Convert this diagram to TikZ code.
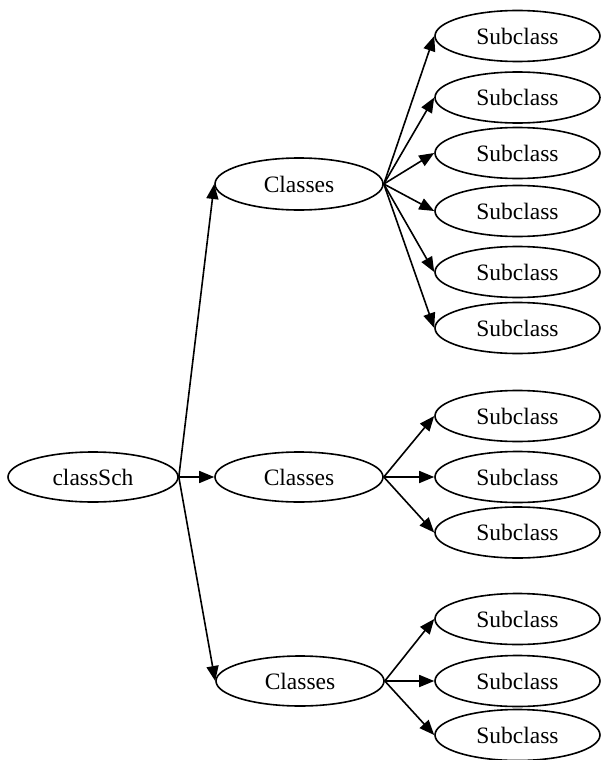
\documentclass[tikz,border=0pt]{standalone}
\usepackage{fontspec}
\setmainfont{Liberation Serif}
\usetikzlibrary{shapes.geometric, arrows.meta}

\begin{document}
\begin{tikzpicture}[x=1pt, y=-1pt,
    every node/.append style={font=\fontsize{23.5}{28}\selectfont},
    oval/.style={ellipse, draw, line width=1.6pt, minimum width=165pt, minimum height=51pt, inner sep=0pt},
    edge/.style={-{Triangle[length=15pt,width=12pt]}, line width=1.6pt}]
  \useasboundingbox (0,0) rectangle (602,760);
  % root and the three class nodes
  \node[oval, minimum width=170pt, minimum height=50pt] (root) at (93,477) {classSch};
  \node[oval, minimum width=168pt, minimum height=52pt] (cls1) at (299,184) {Classes};
  \node[oval, minimum width=168pt, minimum height=50pt] (cls2) at (299,477) {Classes};
  \node[oval, minimum width=168pt, minimum height=50pt] (cls3) at (300,681) {Classes};
  % subclasses
  \foreach \i/\y in {1/36, 2/97.5, 3/153, 4/211, 5/272, 6/328, 7/416, 8/477, 9/532.5, 10/619, 11/681, 12/735}
    \node[oval] (sub\i) at (517.5,\y) {Subclass};
  % edges
  \foreach \c in {1,2,3}
    \draw[edge] (root.east) -- (cls\c.west);
  \foreach \i in {1,...,6}
    \draw[edge] (cls1.east) -- (sub\i.west);
  \foreach \i in {7,8,9}
    \draw[edge] (cls2.east) -- (sub\i.west);
  \foreach \i in {10,11,12}
    \draw[edge] (cls3.east) -- (sub\i.west);
\end{tikzpicture}
\end{document}
